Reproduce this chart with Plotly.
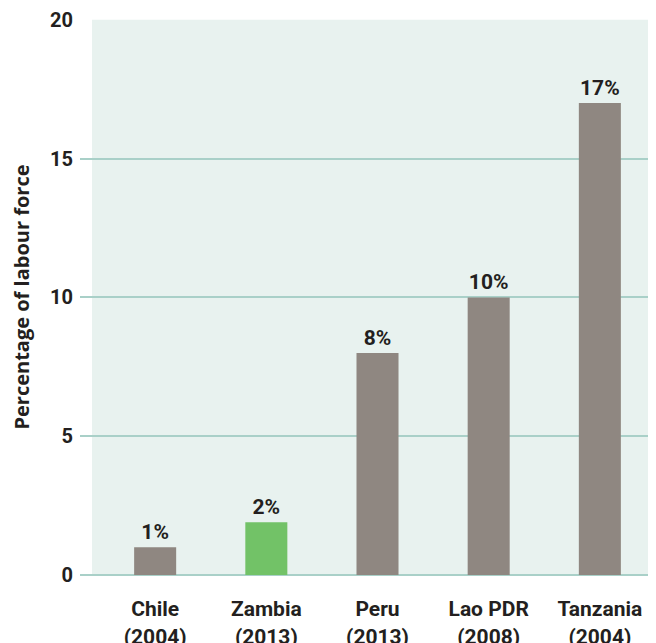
import plotly.graph_objects as go

categories = ["Chile<br>(2004)", "Zambia<br>(2013)", "Peru<br>(2013)", "Lao PDR<br>(2008)", "Tanzania<br>(2004)"]
values = [1, 1.9, 8, 10, 17]
labels = ["1%", "2%", "8%", "10%", "17%"]
colors = ["#8f8781", "#72c267", "#8f8781", "#8f8781", "#8f8781"]

FONT = "Roboto"
INK = "#231f20"
fig = go.Figure(go.Bar(
    x=list(range(len(categories))), y=values, text=labels, textposition="outside",
    textfont=dict(family=FONT, size=21, color=INK, weight="bold"),
    marker=dict(color=colors, line=dict(width=0)), width=0.378,
    cliponaxis=False, hoverinfo="skip",
))
fig.add_shape(type="rect", xref="paper", yref="y", x0=0.0208, x1=1, y0=0, y1=20,
              fillcolor="#e8f2ef", line=dict(width=0), layer="below")
fig.update_layout(
    width=648, height=635, margin=dict(l=72, r=0, t=11, b=68),
    paper_bgcolor="white", plot_bgcolor="white", showlegend=False,
    font=dict(family=FONT, color=INK),
    xaxis=dict(tickmode="array", tickvals=list(range(len(categories))), ticktext=categories,
               range=[-0.676, 4.505], showgrid=False, zeroline=False, showline=False,
               ticks="outside", ticklen=0, ticklabelstandoff=15, automargin=False,
               ticklabeloverflow="allow",
               tickfont=dict(family=FONT, size=21, color=INK, weight="bold")),
    yaxis=dict(range=[0, 20.03], tickvals=[0, 5, 10, 15, 20], showgrid=True, gridcolor="#a9d0c8",
               gridwidth=1.5, zeroline=True, zerolinecolor="#a9d0c8", zerolinewidth=2,
               showline=False, ticks="", ticklabelstandoff=6, automargin=False,
               ticklabeloverflow="allow",
               tickfont=dict(family=FONT, size=20, color=INK, weight="bold"),
               title=dict(text="<b>Percentage of labour force</b>", standoff=16,
                          font=dict(family="Open Sans", size=20, color=INK))),
)
fig.write_html("out.html")
